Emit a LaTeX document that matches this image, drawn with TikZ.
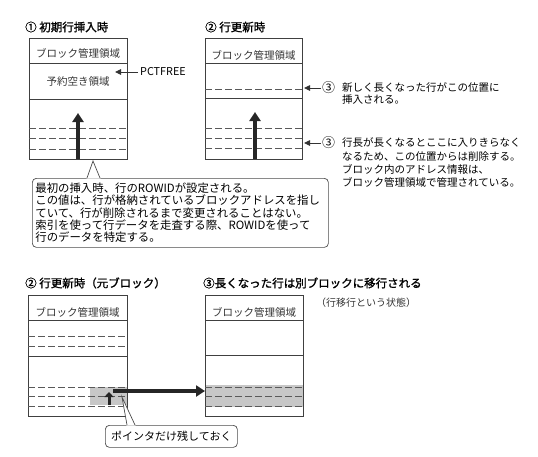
\documentclass[tikz,border=0pt]{standalone}
\usepackage{fontspec}
\setmainfont{Noto Sans CJK JP}
\newfontfamily\jpbold[FakeBold=1.4]{Noto Sans CJK JP}
\usetikzlibrary{arrows.meta}

\tikzset{
  blockline/.style={draw=black!75, line width=0.8pt},
  rowline/.style={draw=black!65, line width=1pt, dash pattern=on 7pt off 3pt},
  bigarrow/.style={draw=black!85, line width=3.4pt, -{Triangle[width=11pt,length=9pt]}},
  thinarrow/.style={draw=black!80, line width=0.9pt, -{Triangle[width=5.5pt,length=6pt]}},
  titletext/.style={anchor=west, inner sep=0pt, font=\jpbold\fontsize{11.5}{13}\selectfont},
  areatext/.style={inner sep=0pt, font=\fontsize{10.5}{12}\selectfont, text=black!80},
  marktext/.style={anchor=west, inner sep=0pt, font=\fontsize{13}{13}\selectfont},
  notetext/.style={anchor=north west, inner sep=0pt, align=left},
  callout/.style={draw=black!70, line width=0.7pt, rounded corners=4pt, fill=white},
  shaded/.style={fill=black!22}
}

\begin{document}
\begin{tikzpicture}[x=1pt, y=-1pt]
            \useasboundingbox (0,0) rectangle (538,456);

            \node[titletext] (titleA) at (25,27) {① 初期行挿入時};
            \node[titletext] (titleB) at (205,27) {② 行更新時};
            \node[titletext] (titleC) at (25,283) {② 行更新時（元ブロック）};
            \node[titletext] (titleD) at (203,283) {③長くなった行は別ブロックに移行される};

            % first block (top left)
            \draw[blockline] (29,38) rectangle (127,159); \draw[blockline]
            (29,63) -- (127,63); \draw[blockline] (29,99) -- (127,99);
            \draw[rowline] (29,128) -- (127,128); \draw[rowline] (29,138) --
            (127,138); \draw[rowline] (29,149) -- (127,149);
            \node[areatext] (headA) at (78,53) {ブロック管理領域};
            \node[areatext] (freeA) at (78,82) {予約空き領域};
            \coordinate (baseA) at (78,159); \coordinate (topA) at (78,113);
            \draw[bigarrow] (baseA) -- (topA);
            \node[marktext, font=\fontsize{10.8}{12}\selectfont] (pct) at (140,72) {PCTFREE};
            \coordinate (pctTip) at (115,72);
            \draw[thinarrow] ([xshift=-2pt]pct.west) -- (pctTip);

            % second block (top right)
            \draw[blockline] (205,38) rectangle (302,159); \draw[blockline]
            (205,63) -- (302,63); \draw[rowline] (205,89) -- (302,89);
            \draw[blockline] (205,98) -- (302,98); \draw[rowline] (205,128) --
            (302,128); \draw[rowline] (205,138) -- (302,138); \draw[rowline]
            (205,148) -- (302,148);
            \node[areatext] (headB) at (253.5,55) {ブロック管理領域};
            \coordinate (baseB) at (255,159); \coordinate (topB) at (255,112);
            \draw[bigarrow] (baseB) -- (topB);

            % notes on the right
            \node[marktext] (markA) at (322,88) {③};
            \node[notetext, font=\fontsize{10.5}{11.8}\selectfont] (noteA) at (342,82.75)
            {新しく長くなった行がこの位置に\\挿入される。};
            \coordinate (rowA) at (304,88);
            \draw[thinarrow] ([xshift=-1pt]markA.west) -- (rowA);
            \node[marktext] (markB) at (322,143) {③};
            \node[notetext, font=\fontsize{10.5}{13.3}\selectfont] (noteB) at (342,137.75)
            {行長が長くなるとここに入りきらなく\\なるため、この位置からは削除する。\\
            ブロック内のアドレス情報は、\\ブロック管理領域で管理されている。};
            \coordinate (rowB) at (304,143);
            \draw[thinarrow] ([xshift=-1pt]markB.west) -- (rowB);

            % callout under the first block
            \node[callout, anchor=north west, minimum width=296pt, minimum
            height=69pt, inner xsep=3pt, text width=290pt, align=left,
            font=\fontsize{11.4}{12.3}\selectfont] (callA) at (32,178)
            {最初の挿入時、行のROWIDが設定される。\\この値は、行が格納されているブロックアドレスを指し\\
            ていて、行が削除されるまで変更されることはない。\\索引を使って行データを走査する際、ROWIDを使って\\
            行のデータを特定する。};
            \coordinate (ptrA) at (93,161);
            \fill[white] (86.5,178.6) -- (ptrA) -- (100.5,178.6) -- cycle;
            \draw[draw=black!70, line width=0.7pt] (87,178) -- (ptrA) -- (100,178);

            % old block (bottom left)
            \fill[shaded] (90,387) rectangle (127,405);
            \draw[blockline] (28,295) rectangle (127,416); \draw[blockline]
            (28,320) -- (127,320); \draw[rowline] (28,336) -- (127,336);
            \draw[rowline] (28,346) -- (127,346); \draw[blockline] (28,356) --
            (127,356); \draw[rowline] (28,387) -- (127,387); \draw[rowline]
            (28,396) -- (127,396); \draw[rowline] (28,406) -- (127,406);
            \node[areatext] (headC) at (77.5,312) {ブロック管理領域};
            \coordinate (ptrBase) at (109,405); \coordinate (ptrTop) at (109,392);
            \draw[draw=black!85, line width=3pt, -{Triangle[width=9pt,length=5pt]}]
            (ptrBase) -- (ptrTop);

            % new block (bottom right)
            \fill[shaded] (205,385) rectangle (303,407);
            \draw[blockline] (205,295) rectangle (303,416); \draw[blockline]
            (205,320) -- (303,320); \draw[blockline] (205,355) -- (303,355);
            \draw[rowline] (205,387) -- (303,387); \draw[rowline] (205,396) --
            (303,396); \draw[rowline] (205,406) -- (303,406);
            \node[areatext] (headD) at (254,312) {ブロック管理領域};
            \node[anchor=west, inner sep=0pt, font=\fontsize{10}{12}\selectfont, text=black!80]
            (stateD) at (316,303) {（行移行という状態）};

            % migration arrow
            \coordinate (ptrOld) at (113,391); \coordinate (rowMoved) at (205,391);
            \draw[bigarrow] (ptrOld) -- (rowMoved);

            % callout for the pointer
            \node[callout, anchor=north west, minimum width=132pt, minimum
            height=22pt, inner sep=0pt, font=\fontsize{11}{12}\selectfont]
            (callB) at (105,425) {ポインタだけ残しておく};
            \coordinate (ptrB) at (122,397);
            \fill[white] (126.5,425.6) -- (ptrB) -- (135.5,425.6) -- cycle;
            \draw[draw=black!70, line width=0.7pt] (127,425) -- (ptrB) -- (135,425);
        \end{tikzpicture}
\end{document}
